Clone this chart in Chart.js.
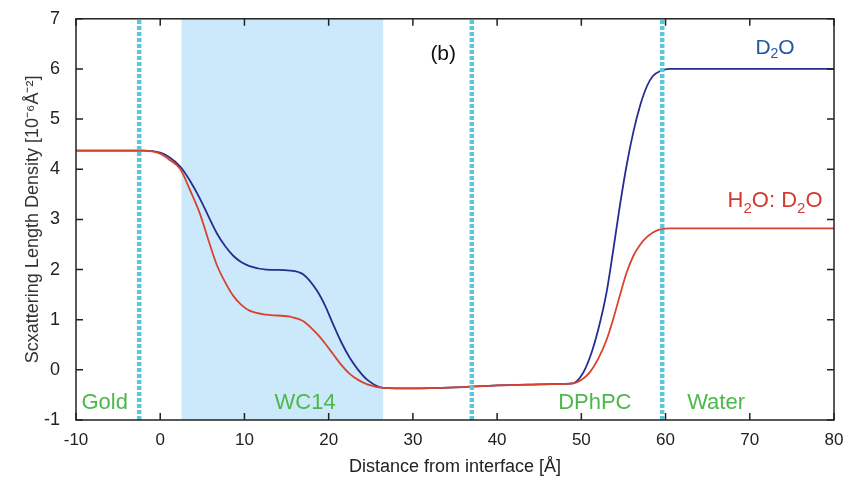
<!DOCTYPE html>
<html><head><meta charset="utf-8">
<script src="https://cdn.jsdelivr.net/npm/chart.js@4.4.1/dist/chart.umd.min.js"></script>
<style>html,body{margin:0;padding:0;background:#fff}#wrap{width:858px;height:484px}</style>
</head><body><div id="wrap"><canvas id="c" width="858" height="484"></canvas></div>
<script>
// ---- data ----
const distance = [-10, -2, 0, 1, 2.4, 3.5, 4.7, 5.7, 6.7, 7.7, 8.7, 9.6, 10.6, 12.6, 15.4, 17, 18.6, 19.6, 20.5, 21.5, 22.5, 23.5, 24.6, 26.5, 30, 35, 40, 45, 48, 49, 50, 51, 52, 53, 53.8, 54.6, 55.4, 56.2, 57, 57.8, 58.5, 59.4, 60.5, 62, 80];
const sldD2O = [4.37, 4.37, 4.33, 4.25, 4.05, 3.78, 3.42, 3.07, 2.73, 2.47, 2.27, 2.15, 2.07, 2.0, 1.98, 1.9, 1.58, 1.27, 0.92, 0.55, 0.24, 0.0, -0.2, -0.36, -0.37, -0.35, -0.31, -0.29, -0.28, -0.27, -0.12, 0.24, 0.8, 1.55, 2.4, 3.3, 4.1, 4.76, 5.28, 5.66, 5.86, 5.96, 6.0, 6.0, 6.0];
const sldMix = [4.37, 4.37, 4.31, 4.2, 4.0, 3.6, 3.12, 2.6, 2.1, 1.75, 1.47, 1.3, 1.18, 1.1, 1.06, 0.97, 0.72, 0.52, 0.32, 0.1, -0.08, -0.2, -0.29, -0.36, -0.37, -0.35, -0.31, -0.29, -0.28, -0.27, -0.2, -0.05, 0.22, 0.6, 1.02, 1.5, 1.95, 2.28, 2.5, 2.65, 2.74, 2.8, 2.82, 2.82, 2.82];
const boundaries = [-2.5, 37, 59.6];
const wc14Span = [2.5, 26.5];
const xTicks = [-10, 0, 10, 20, 30, 40, 50, 60, 70, 80];
const yTicks = [-1, 0, 1, 2, 3, 4, 5, 6, 7];
const regionLabels = [
  {text: 'Gold', x: -6.6, y: -0.65},
  {text: 'WC14', x: 17.2, y: -0.65},
  {text: 'DPhPC', x: 51.6, y: -0.65},
  {text: 'Water', x: 66, y: -0.65}
];

const pts = (ys) => distance.map((x, i) => ({x, y: ys[i]}));
const datasets = [];
datasets.push({
  data: [{x: wc14Span[0], y: 7}, {x: wc14Span[1], y: 7}],
  borderWidth: 0, pointRadius: 0, fill: 'start', backgroundColor: '#cce9fb', order: 10
});
datasets.push({data: pts(sldD2O), borderColor: '#262d8f', borderWidth: 1.8, pointRadius: 0, cubicInterpolationMode: 'monotone', order: 5});
datasets.push({data: pts(sldMix), borderColor: '#d8432f', borderWidth: 1.8, pointRadius: 0, cubicInterpolationMode: 'monotone', order: 4});
boundaries.forEach(b => datasets.push({
  data: [{x: b, y: -1}, {x: b, y: 7}], borderColor: '#5cc6da', borderWidth: 4.5,
  borderDash: [4, 2], pointRadius: 0, order: 1
}));

function drawRich(ctx, parts, cx, cy, size, color) {
  const main = size + 'px "Liberation Sans", Arial, sans-serif';
  const sub = Math.round(size * 0.68) + 'px "Liberation Sans", Arial, sans-serif';
  let w = 0;
  parts.forEach(p => { ctx.font = p.sub ? sub : main; p.w = ctx.measureText(p.t).width; w += p.w; });
  let x = cx - w / 2;
  ctx.fillStyle = color; ctx.textBaseline = 'middle'; ctx.textAlign = 'left';
  parts.forEach(p => {
    ctx.font = p.sub ? sub : main;
    ctx.fillText(p.t, x, p.sub ? cy + size * 0.32 : cy);
    x += p.w;
  });
}

const overlay = {
  id: 'overlay',
  afterDraw(chart) {
    const {ctx, chartArea: a, scales: {x, y}} = chart;
    ctx.save();
    ctx.strokeStyle = '#222'; ctx.lineWidth = 1.5;
    ctx.strokeRect(a.left, a.top, a.right - a.left, a.bottom - a.top);
    ctx.beginPath();
    xTicks.forEach(v => { const px = x.getPixelForValue(v);
      ctx.moveTo(px, a.bottom); ctx.lineTo(px, a.bottom - 7);
      ctx.moveTo(px, a.top); ctx.lineTo(px, a.top + 7); });
    yTicks.forEach(v => { const py = y.getPixelForValue(v);
      ctx.moveTo(a.left, py); ctx.lineTo(a.left + 7, py);
      ctx.moveTo(a.right, py); ctx.lineTo(a.right - 7, py); });
    ctx.stroke();
    drawRich(ctx, [{t: '(b)'}], x.getPixelForValue(33.6), y.getPixelForValue(6.3), 21, '#111');
    drawRich(ctx, [{t: 'D'}, {t: '2', sub: true}, {t: 'O'}], x.getPixelForValue(73), y.getPixelForValue(6.42), 21, '#2456a8');
    drawRich(ctx, [{t: 'H'}, {t: '2', sub: true}, {t: 'O: D'}, {t: '2', sub: true}, {t: 'O'}], x.getPixelForValue(73), y.getPixelForValue(3.36), 22, '#d23a32');
    regionLabels.forEach(l => drawRich(ctx, [{t: l.text}], x.getPixelForValue(l.x), y.getPixelForValue(l.y), 22, '#4cb84a'));
    ctx.restore();
  }
};

new Chart(document.getElementById('c'), {
  type: 'line',
  data: {datasets},
  options: {
    responsive: false, animation: false,
    layout: {padding: {top: 13, right: 24, left: 0, bottom: 0}},
    plugins: {legend: {display: false}, tooltip: {enabled: false}},
    scales: {
      x: {
        type: 'linear', min: -10, max: 80,
        afterBuildTicks: s => { s.ticks = xTicks.map(v => ({value: v})); },
        afterFit: s => { s.height = 64; },
        grid: {display: false}, border: {display: false},
        ticks: {color: '#222', font: {size: 17, family: '"Liberation Sans", Arial'}, padding: 2, maxRotation: 0, autoSkip: false},
        title: {display: true, text: 'Distance from interface [Å]', color: '#222', font: {size: 18, family: '"Liberation Sans", Arial'}, padding: {top: 0, bottom: 6}}
      },
      y: {
        min: -1, max: 7,
        afterBuildTicks: s => { s.ticks = yTicks.map(v => ({value: v})); },
        afterFit: s => { s.width = 76; },
        grid: {display: false}, border: {display: false},
        ticks: {color: '#222', font: {size: 18, family: '"Liberation Sans", Arial'}, padding: 8},
        title: {display: true, text: 'Scxattering Length Density [10⁻⁶Å⁻²]', color: '#333', font: {size: 18, family: '"Liberation Sans", Arial'}, padding: {top: 22, bottom: 0}}
      }
    }
  },
  plugins: [overlay]
});
</script></body></html>
